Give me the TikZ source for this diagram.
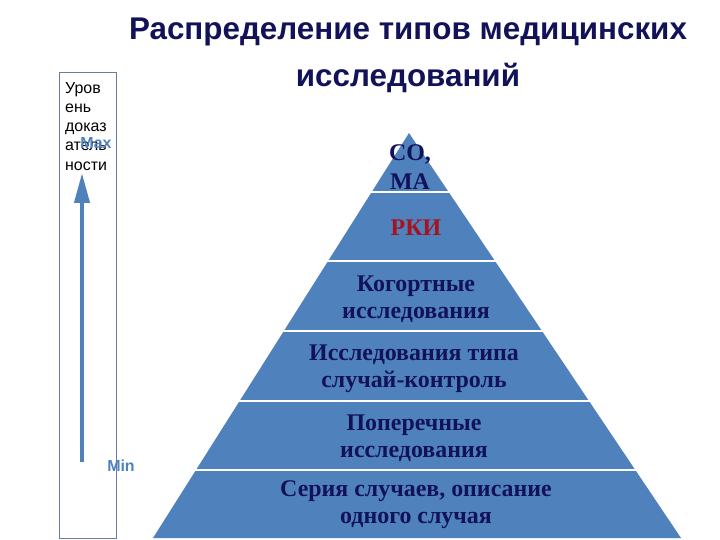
\documentclass[tikz,border=0pt]{standalone}
\usepackage{fontspec}
\usetikzlibrary{arrows.meta}
\setmainfont{Liberation Serif}
\setsansfont{Liberation Sans}
\definecolor{pyrblue}{RGB}{79,129,189}
\definecolor{navy}{RGB}{18,18,88}
\definecolor{rkired}{RGB}{165,20,30}
\definecolor{boxline}{RGB}{105,125,155}
\tikzset{
  level/.style={font=\bfseries\fontsize{24}{27}\selectfont,text=navy,align=center},
  side/.style={font=\sffamily\bfseries\fontsize{16}{18}\selectfont,text=pyrblue}
}
\begin{document}
\begin{tikzpicture}[x=1bp,y=-1bp]
\useasboundingbox (0,0) rectangle (720,540);
\node[font=\sffamily\bfseries\fontsize{31.5}{47}\selectfont,text=navy,align=center] (title) at (408,55) {Распределение типов медицинских\\исследований};
\draw[boxline,line width=0.8bp] (59,72) rectangle (116,538);
\node[anchor=north west,inner sep=0,align=left,font=\sffamily\fontsize{16}{19.3}\selectfont] (lvl) at (65,82) {Уров\\ень\\доказ\\атель\\ности};
\coordinate (lo) at (82,462);
\coordinate (hi) at (82,173);
\draw[pyrblue,line width=4bp,-{Triangle[width=15bp,length=30bp]}] (lo) -- (hi);
\node[side] (max) at (96,143) {Max};
\node[side] (min) at (121,466) {Min};
\fill[pyrblue] (409,133) -- (681,538) -- (153,538) -- cycle;
\foreach \y in {192,261,331,401,470}
  \draw[white,line width=2bp] (140,\y) -- (700,\y);
\node[level,font=\bfseries\fontsize{24}{29}\selectfont] (so) at (410,167) {СО,\\МА};
\node[level,text=rkired] (rki) at (416,228) {РКИ};
\node[level] (cohort) at (416,299) {Когортные\\исследования};
\node[level] (cc) at (414,369) {Исследования типа\\случай-контроль};
\node[level] (cross) at (414,438) {Поперечные\\исследования};
\node[level] (series) at (416,505) {Серия случаев, описание\\одного случая};
\end{tikzpicture}
\end{document}
